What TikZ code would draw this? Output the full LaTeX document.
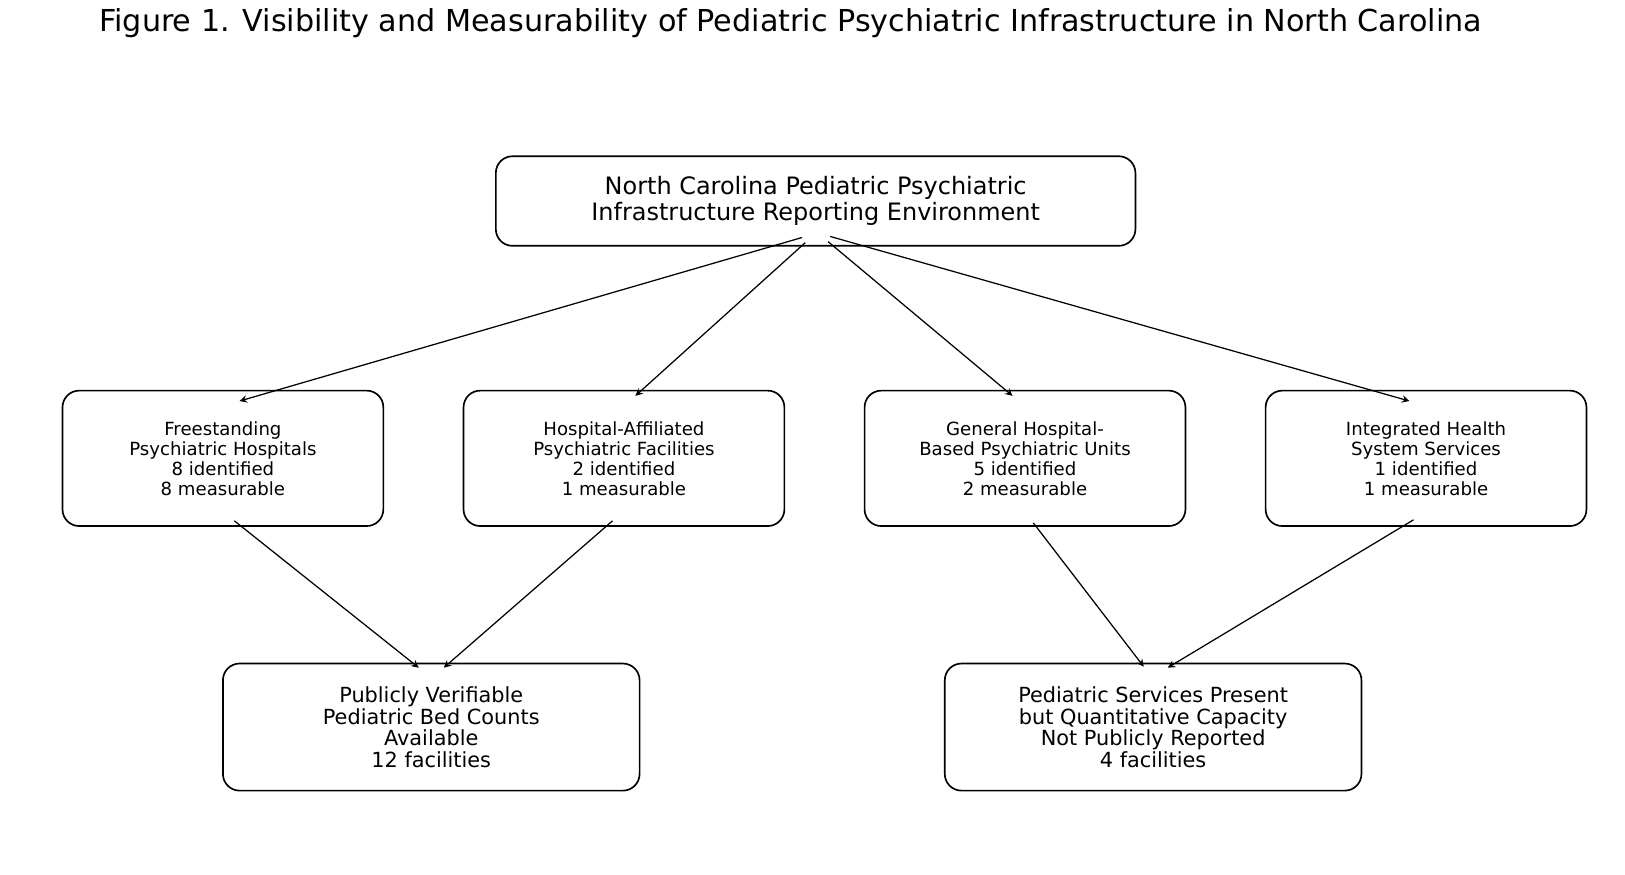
\documentclass[tikz,border=0pt]{standalone}
\usepackage{fontspec}
\setmainfont{DejaVu Sans}
\begin{document}
\begin{tikzpicture}[x=0.5pt,y=-0.5pt,
  box/.style={draw,thick,rounded corners=8pt,align=center,inner sep=0pt},
  arr/.style={->,semithick,>=stealth}]
% frame and title
\useasboundingbox (0,0) rectangle (1560,840);
\node (title) at (759,22) {\fontsize{14.5}{16}\selectfont Figure 1. Visibility and Measurability of Pediatric Psychiatric Infrastructure in North Carolina};

% top box
\node[box,minimum width=307pt,minimum height=43pt,font=\fontsize{11.5}{12.5}\selectfont] (env) at (783,193)
  {North Carolina Pediatric Psychiatric\\Infrastructure Reporting Environment};

% facility types
\node[box,minimum width=154pt,minimum height=65pt,font=\fontsize{8.7}{9.6}\selectfont] (free) at (214,440)
  {Freestanding\\Psychiatric Hospitals\\8 identified\\8 measurable};
\node[box,minimum width=154pt,minimum height=65pt,font=\fontsize{8.7}{9.6}\selectfont] (affil) at (599,440)
  {Hospital-Affiliated\\Psychiatric Facilities\\2 identified\\1 measurable};
\node[box,minimum width=154pt,minimum height=65pt,font=\fontsize{8.7}{9.6}\selectfont] (gen) at (984,440)
  {General Hospital-\\Based Psychiatric Units\\5 identified\\2 measurable};
\node[box,minimum width=154pt,minimum height=65pt,font=\fontsize{8.7}{9.6}\selectfont] (integ) at (1369,440)
  {Integrated Health\\System Services\\1 identified\\1 measurable};

% outcomes
\node[box,minimum width=200pt,minimum height=61pt,font=\fontsize{10}{10.3}\selectfont] (pub) at (414,698)
  {Publicly Verifiable\\Pediatric Bed Counts\\Available\\12 facilities};
\node[box,minimum width=200pt,minimum height=61pt,font=\fontsize{10}{10.3}\selectfont] (nopub) at (1107,698)
  {Pediatric Services Present\\but Quantitative Capacity\\Not Publicly Reported\\4 facilities};

% arrow ends
\coordinate (e1) at (770,228); \coordinate (e2) at (773,233);
\coordinate (e3) at (795,232); \coordinate (e4) at (797,227);
\coordinate (f1) at (230,385); \coordinate (f2) at (610,380);
\coordinate (f3) at (972,380); \coordinate (f4) at (1353,385);
\coordinate (g1) at (225,500); \coordinate (g2) at (588,500);
\coordinate (g3) at (992,502); \coordinate (g4) at (1357,499);
\coordinate (h1) at (402,641); \coordinate (h2) at (426,641);
\coordinate (h3) at (1098,640); \coordinate (h4) at (1121,641);

\draw[arr] (e1) -- (f1);
\draw[arr] (e2) -- (f2);
\draw[arr] (e3) -- (f3);
\draw[arr] (e4) -- (f4);
\draw[arr] (g1) -- (h1);
\draw[arr] (g2) -- (h2);
\draw[arr] (g3) -- (h3);
\draw[arr] (g4) -- (h4);
\end{tikzpicture}
\end{document}
